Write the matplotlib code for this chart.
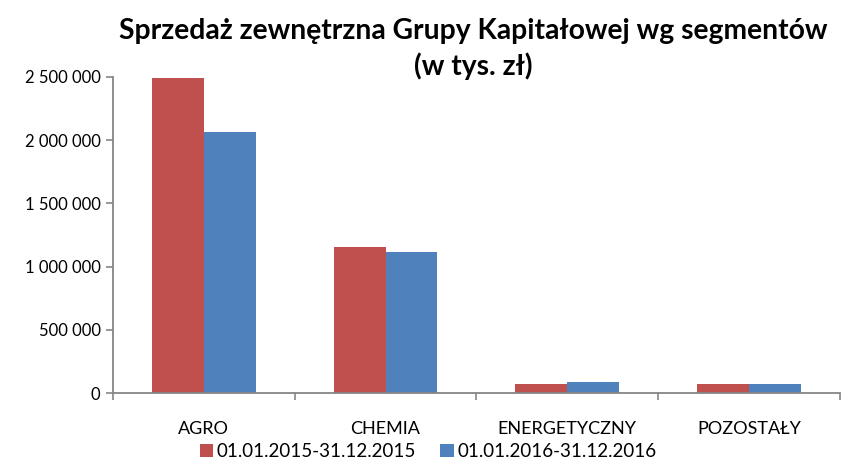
import numpy as np
import matplotlib.pyplot as plt
from matplotlib.ticker import FuncFormatter

categories = ["AGRO", "CHEMIA", "ENERGETYCZNY", "POZOSTAŁY"]
sales_2015 = [2487000, 1155000, 77000, 77000]
sales_2016 = [2060000, 1113000, 90000, 77000]
series_labels = ["01.01.2015-31.12.2015", "01.01.2016-31.12.2016"]
yticks = [0, 500000, 1000000, 1500000, 2000000, 2500000]

plt.rcParams['font.family'] = ['Lato', 'DejaVu Sans']

fig = plt.figure(figsize=(8.46, 4.63), dpi=100)
ax = fig.add_axes([0.1336, 0.1505, 0.859, 0.6838])

x = np.arange(len(categories))
w = 1 / 3.5
ax.bar(x - w / 2, sales_2015, w, color="#C0504D", label=series_labels[0])
ax.bar(x + w / 2, sales_2016, w, color="#4F81BD", label=series_labels[1])

ax.set_xlim(-0.5, len(categories) - 0.5)
ax.set_ylim(0, 2500000)
ax.set_yticks(yticks)
ax.yaxis.set_major_formatter(FuncFormatter(lambda v, p: f"{int(v):,}".replace(",", " ")))

# category labels centred, ticks on boundaries
ax.set_xticks(x)
ax.set_xticklabels(categories, fontsize=13)
ax.tick_params(axis='x', which='major', length=0, pad=20)
ax.set_xticks(np.arange(-0.5, len(categories) + 0.5, 1), minor=True)
ax.tick_params(axis='x', which='minor', length=5, color="#868686", width=1.2)
ax.tick_params(axis='y', length=5, color="#868686", width=1.2, labelsize=12, pad=4)

for s in ["top", "right"]:
    ax.spines[s].set_visible(False)
for s in ["left", "bottom"]:
    ax.spines[s].set_color("#868686")
    ax.spines[s].set_linewidth(1.3)

fig.text(0.559, 0.894, "Sprzedaż zewnętrzna Grupy Kapitałowej wg segmentów\n(w tys. zł)",
         ha="center", va="center", fontsize=20.3, fontweight="bold", linespacing=1.4)

fig.legend(loc="lower center", bbox_to_anchor=(0.506, -0.03), ncol=2, frameon=False,
           fontsize=13.5, handlelength=0.7, handleheight=0.7, handletextpad=0.2, columnspacing=1.3)

fig.savefig("out.png", dpi=100)
